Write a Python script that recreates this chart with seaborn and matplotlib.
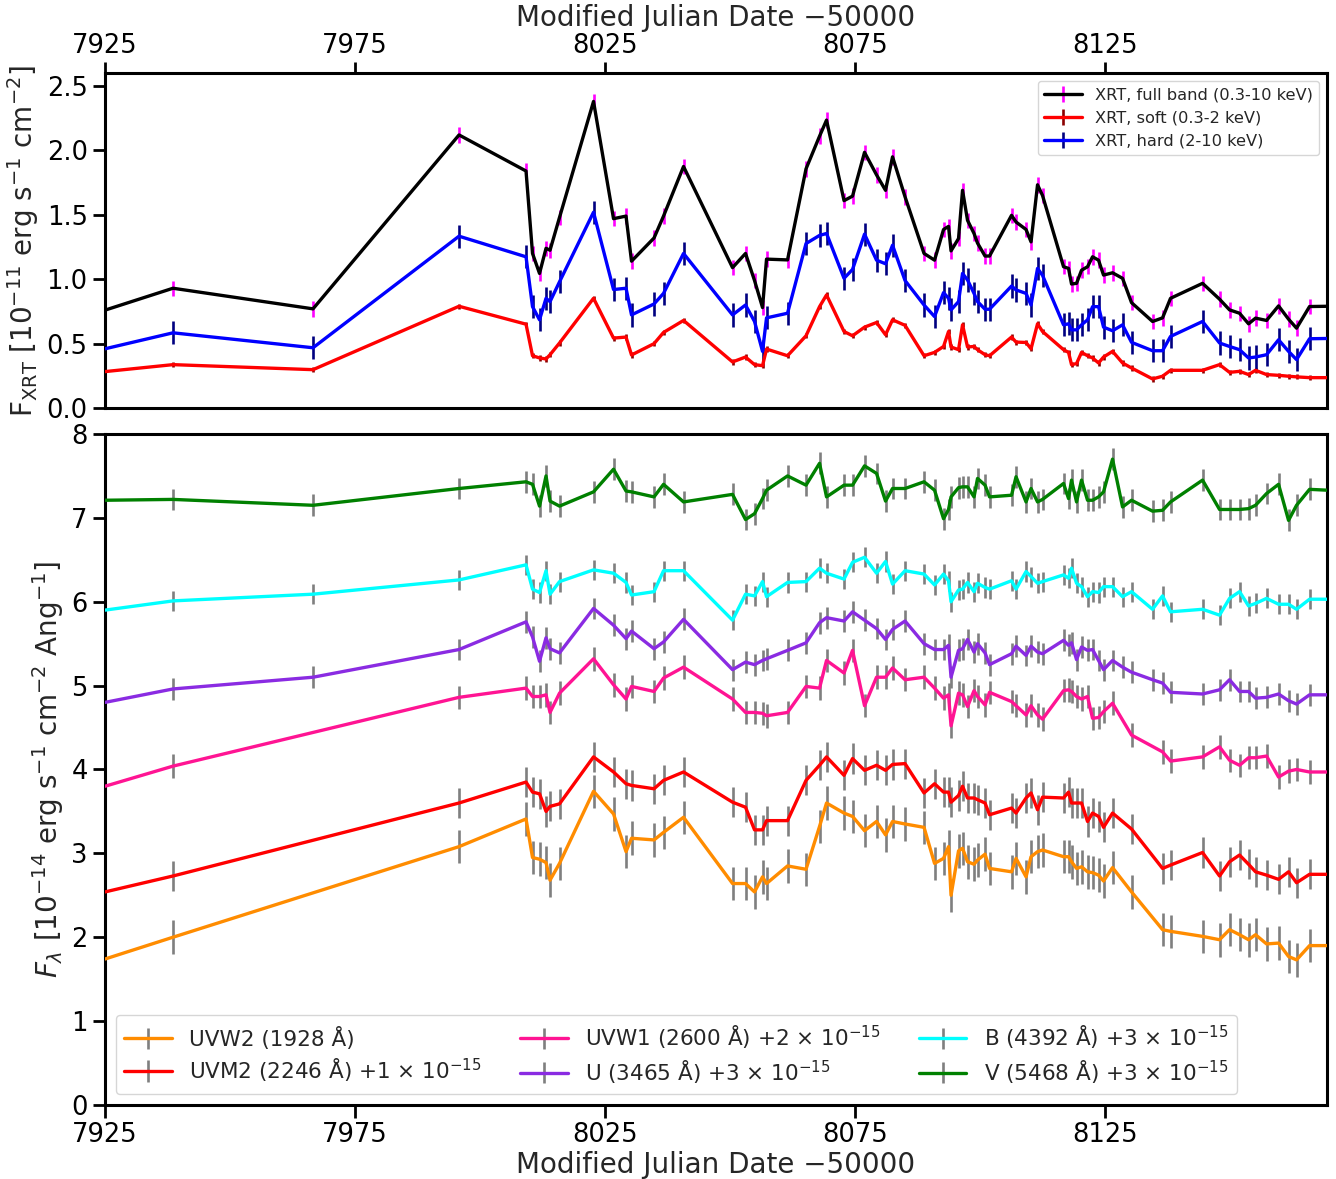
import numpy as np
import matplotlib
matplotlib.use('Agg')
import matplotlib.pyplot as plt
import seaborn as sns

# ---------------- data (MJD - 50000) ----------------
mjd = [7925.0, 7938.6, 7966.6, 7995.8, 8009.2, 8010.5, 8011.9, 8013.2, 8014.0, 8015.9,
       8022.7, 8026.7, 8029.2, 8030.3, 8034.8, 8036.7, 8040.7, 8050.5, 8053.1, 8054.9,
       8056.5, 8057.3, 8061.5, 8065.2, 8067.9, 8069.3, 8072.8, 8074.5, 8076.9, 8079.3,
       8081.1, 8082.5, 8085.0, 8088.8, 8090.9, 8092.7, 8093.7, 8094.2, 8095.7, 8096.5,
       8097.5, 8098.8, 8099.5, 8101.0, 8101.9, 8106.3, 8107.2, 8109.2, 8110.2, 8111.5,
       8112.5, 8116.7, 8117.7, 8118.3, 8119.3, 8120.3, 8121.5, 8122.5, 8123.7, 8124.7,
       8126.5, 8128.5, 8130.3, 8134.5, 8136.5, 8138.1, 8144.5, 8147.9, 8149.9, 8151.9,
       8153.7, 8155.1, 8157.3, 8159.7, 8161.7, 8163.3, 8165.9, 8169.4]

# XRT fluxes [1e-11 erg/s/cm2]
xrt_full = [0.76, 0.93, 0.77, 2.12, 1.84, 1.20, 1.045, 1.24, 1.225, 1.48,
            2.38, 1.47, 1.49, 1.14, 1.32, 1.49, 1.875, 1.09, 1.20, 0.99,
            0.78, 1.156, 1.15, 1.857, 2.11, 2.235, 1.61, 1.645, 1.985, 1.81,
            1.69, 1.95, 1.64, 1.20, 1.148, 1.386, 1.41, 1.22, 1.316, 1.69,
            1.457, 1.355, 1.28, 1.18, 1.18, 1.496, 1.444, 1.386, 1.29, 1.733,
            1.65, 1.097, 1.084, 0.963, 0.968, 1.07, 1.097, 1.174, 1.148, 1.032,
            1.05, 1.007, 0.818, 0.672, 0.70, 0.852, 0.968, 0.845, 0.762, 0.736,
            0.654, 0.698, 0.68, 0.793, 0.69, 0.62, 0.788, 0.79]
xrt_soft = [0.283, 0.337, 0.298, 0.79, 0.651, 0.406, 0.389, 0.381, 0.414, 0.505,
            0.852, 0.543, 0.551, 0.412, 0.50, 0.587, 0.68, 0.358, 0.396, 0.337,
            0.329, 0.458, 0.406, 0.561, 0.787, 0.878, 0.594, 0.561, 0.628, 0.664,
            0.569, 0.685, 0.642, 0.406, 0.432, 0.478, 0.594, 0.474, 0.453, 0.646,
            0.474, 0.478, 0.453, 0.414, 0.406, 0.551, 0.512, 0.509, 0.46, 0.654,
            0.594, 0.453, 0.432, 0.337, 0.345, 0.432, 0.406, 0.389, 0.35, 0.396,
            0.44, 0.35, 0.311, 0.226, 0.247, 0.293, 0.293, 0.337, 0.277, 0.285,
            0.26, 0.293, 0.26, 0.254, 0.247, 0.242, 0.236, 0.236]
xrt_hard = [0.46, 0.584, 0.468, 1.334, 1.174, 0.787, 0.685, 0.852, 0.826, 0.98,
            1.52, 0.92, 0.93, 0.723, 0.808, 0.89, 1.20, 0.723, 0.80, 0.672,
            0.44, 0.70, 0.736, 1.277, 1.34, 1.355, 1.007, 1.076, 1.35, 1.148,
            1.12, 1.264, 0.99, 0.80, 0.71, 0.896, 0.852, 0.762, 0.826, 1.045,
            0.994, 0.89, 0.826, 0.767, 0.767, 0.947, 0.917, 0.89, 0.80, 1.084,
            1.03, 0.646, 0.654, 0.607, 0.607, 0.646, 0.685, 0.787, 0.787, 0.628,
            0.60, 0.646, 0.51, 0.445, 0.445, 0.556, 0.672, 0.505, 0.478, 0.453,
            0.389, 0.396, 0.414, 0.53, 0.44, 0.376, 0.538, 0.54]
xrt_full_err = 0.06
xrt_soft_err = 0.02
xrt_hard_err = 0.09

nan = np.nan
# UVOT fluxes as plotted [1e-14 erg/s/cm2/A], including the offsets in the legend
uvw2 = [1.74, 2.00, nan, 3.08, 3.41, 2.95, 2.93, 2.89, 2.68, 2.88,
        3.74, 3.47, 3.02, 3.18, 3.16, 3.25, 3.43, 2.64, 2.64, 2.54,
        2.72, 2.64, 2.85, 2.81, 3.32, 3.60, 3.48, 3.44, 3.27, 3.38,
        3.22, 3.38, 3.35, 3.31, 2.88, 2.94, 3.08, 2.50, 3.03, 3.06,
        2.90, 2.87, 2.92, 2.99, 2.82, 2.78, 2.94, 2.72, 2.96, 3.02,
        3.04, 2.96, 2.96, 2.90, 2.82, 2.84, 2.78, 2.77, 2.74, 2.67,
        2.83, nan, 2.54, nan, 2.09, 2.07, 2.01, 1.97, 2.09, 2.03,
        1.97, 2.03, 1.92, 1.93, 1.77, 1.73, 1.90, 1.90]
uvm2 = [2.54, 2.73, nan, 3.60, 3.85, 3.73, 3.71, 3.50, 3.56, 3.59,
        4.15, 3.97, 3.83, 3.81, 3.77, 3.87, 3.97, 3.61, 3.55, 3.28,
        3.28, 3.39, 3.39, 3.87, 4.05, 4.15, 3.93, 4.13, 3.99, 4.05,
        3.99, 4.06, 4.07, 3.72, 3.83, 3.73, 3.73, 3.61, 3.69, 3.80,
        3.66, 3.66, 3.64, 3.60, 3.46, 3.54, 3.48, 3.66, 3.72, 3.52,
        3.67, 3.66, 3.73, 3.60, 3.60, 3.60, 3.38, 3.48, 3.44, 3.31,
        3.48, nan, 3.29, nan, 2.82, 2.86, 3.01, 2.73, 2.90, 2.98,
        2.87, 2.78, 2.74, 2.69, 2.78, 2.65, 2.75, 2.75]
uvw1 = [3.80, 4.04, nan, 4.86, 4.97, 4.87, 4.87, 4.89, 4.68, 4.91,
        5.32, 5.01, 4.84, 4.99, 4.93, 5.09, 5.22, 4.84, 4.68, 4.68,
        4.67, 4.64, 4.68, 4.99, 4.97, 5.30, 5.15, 5.42, 4.76, 5.10,
        5.10, 5.21, 5.07, 5.10, 4.97, 4.85, 4.89, 4.52, 4.91, 4.89,
        4.75, 4.94, 4.87, 4.77, 4.92, 4.81, 4.76, 4.65, 4.76, 4.65,
        4.60, 4.94, 4.95, 4.93, 4.87, 4.84, 4.87, 4.61, 4.62, 4.69,
        4.79, nan, 4.41, nan, 4.21, 4.10, 4.15, 4.27, 4.11, 4.05,
        4.14, 4.14, 4.16, 3.91, 3.98, 4.00, 3.97, 3.97]
u_band = [4.80, 4.96, 5.10, 5.43, 5.76, 5.58, 5.29, 5.57, 5.44, 5.39,
          5.92, 5.72, 5.56, 5.65, 5.44, 5.52, 5.79, 5.19, 5.28, 5.25,
          5.30, 5.32, 5.42, 5.51, 5.75, 5.81, 5.77, 5.88, 5.78, 5.68,
          5.55, 5.67, 5.77, 5.50, 5.43, 5.43, 5.48, 5.10, 5.42, 5.44,
          5.55, 5.40, 5.50, 5.39, 5.25, 5.38, 5.47, 5.36, 5.47, 5.40,
          5.38, 5.54, 5.48, 5.51, 5.31, 5.46, 5.42, 5.43, 5.30, 5.19,
          5.30, 5.22, 5.16, 5.07, 5.03, 4.92, 4.90, 4.95, 5.07, 4.93,
          4.93, 4.85, 4.86, 4.90, 4.82, 4.78, 4.89, 4.89]
b_band = [5.90, 6.01, 6.09, 6.26, 6.44, 6.15, 6.11, 6.37, 6.09, 6.24,
          6.38, 6.34, 6.23, 6.08, 6.12, 6.37, 6.37, 5.78, 6.09, 6.07,
          6.24, 6.06, 6.23, 6.24, 6.40, 6.34, 6.27, 6.47, 6.53, 6.34,
          6.48, 6.21, 6.37, 6.33, 6.20, 6.33, 6.25, 6.00, 6.14, 6.15,
          6.23, 6.12, 6.22, 6.17, 6.15, 6.25, 6.15, 6.36, 6.30, 6.22,
          6.24, 6.32, 6.28, 6.40, 6.22, 6.18, 6.06, 6.12, 6.11, 6.18,
          6.18, 6.06, 6.12, 5.91, 6.07, 5.88, 5.91, 5.84, 6.04, 6.12,
          5.95, 5.98, 6.04, 5.97, 5.97, 5.91, 6.03, 6.03]
v_band = [7.21, 7.22, 7.15, 7.35, 7.43, 7.40, 7.14, 7.50, 7.20, 7.14,
          7.31, 7.58, 7.32, 7.31, 7.25, 7.40, 7.19, 7.28, 6.98, 7.05,
          7.23, 7.33, 7.50, 7.39, 7.65, 7.25, 7.39, 7.39, 7.62, 7.53,
          7.20, 7.35, 7.35, 7.43, 7.33, 6.99, 7.10, 7.25, 7.36, 7.37,
          7.37, 7.25, 7.47, 7.39, 7.25, 7.27, 7.49, 7.19, 7.35, 7.19,
          7.22, 7.41, 7.23, 7.45, 7.19, 7.45, 7.21, 7.21, 7.25, 7.31,
          7.70, 7.13, 7.21, 7.08, 7.09, 7.19, 7.45, 7.10, 7.10, 7.10,
          7.11, 7.15, 7.29, 7.40, 6.97, 7.15, 7.34, 7.33]
uv_err = {'UVW2': 0.20, 'UVM2': 0.18, 'UVW1': 0.14, 'U': 0.13, 'B': 0.12, 'V': 0.13}

xticks = [7925, 7975, 8025, 8075, 8125]

# ---------------- style ----------------
sns.set_theme(style='ticks')
plt.rcParams['font.family'] = ['DejaVu Sans']
plt.rcParams['mathtext.fontset'] = 'dejavusans'
plt.rcParams['axes.linewidth'] = 2.2

fig = plt.figure(figsize=(13.36, 11.79), dpi=100)
ax1 = fig.add_axes([0.0786, 0.6539, 0.9147, 0.2841])
ax2 = fig.add_axes([0.0786, 0.0628, 0.9147, 0.5691])

LW = 2.4
ELW = 1.9
TICK_FS = 18.5
LABEL_FS = 20


def draw(ax, x, y, err, color, ecolor, label):
    x = np.asarray(x, float)
    y = np.asarray(y, float)
    m = ~np.isnan(y)
    ax.errorbar(x[m], y[m], yerr=err, fmt='none', ecolor=ecolor,
                elinewidth=ELW, capsize=0, zorder=2)
    sns.lineplot(x=x[m], y=y[m], color=color, lw=LW, ax=ax, legend=False,
                 estimator=None, sort=False, zorder=3)
    ax.errorbar([np.nan], [np.nan], yerr=[0.1], fmt='-', color=color,
                ecolor=ecolor, lw=LW, elinewidth=ELW, capsize=0, label=label)


# top panel: XRT
draw(ax1, mjd, xrt_full, xrt_full_err, 'black', 'magenta', 'XRT, full band (0.3-10 keV)')
draw(ax1, mjd, xrt_soft, xrt_soft_err, 'red', 'darkred', 'XRT, soft (0.3-2 keV)')
draw(ax1, mjd, xrt_hard, xrt_hard_err, 'blue', 'navy', 'XRT, hard (2-10 keV)')

ax1.set_xlim(7925, 8169.4)
ax1.set_ylim(0, 2.6)
ax1.set_xticks(xticks)
ax1.xaxis.tick_top()
ax1.xaxis.set_label_position('top')
ax1.set_xlabel('Modified Julian Date \u221250000', fontsize=LABEL_FS, labelpad=5)
ax1.set_ylabel(r'F$_{\rm XRT}$ [10$^{-11}$ erg s$^{-1}$ cm$^{-2}$]', fontsize=LABEL_FS)
ax1.legend(loc='upper right', fontsize=11.7, handlelength=2.3, framealpha=0.8)

# bottom panel: UVOT
grey = '#7f7f7f'
draw(ax2, mjd, uvw2, uv_err['UVW2'], 'darkorange', grey, 'UVW2 (1928 Å)')
draw(ax2, mjd, uvm2, uv_err['UVM2'], 'red', grey, r'UVM2 (2246 Å) +1 $\times$ 10$^{-15}$')
draw(ax2, mjd, uvw1, uv_err['UVW1'], 'deeppink', grey, r'UVW1 (2600 Å) +2 $\times$ 10$^{-15}$')
draw(ax2, mjd, u_band, uv_err['U'], 'blueviolet', grey, r'U (3465 Å) +3 $\times$ 10$^{-15}$')
draw(ax2, mjd, b_band, uv_err['B'], 'cyan', grey, r'B (4392 Å) +3 $\times$ 10$^{-15}$')
draw(ax2, mjd, v_band, uv_err['V'], 'green', grey, r'V (5468 Å) +3 $\times$ 10$^{-15}$')

ax2.set_xlim(7925, 8169.4)
ax2.set_ylim(0, 8)
ax2.set_xticks(xticks)
ax2.set_yticks(range(0, 9))
ax2.set_xlabel('Modified Julian Date \u221250000', fontsize=LABEL_FS, labelpad=2)
ax2.set_ylabel(r'$F_\lambda$ [10$^{-14}$ erg s$^{-1}$ cm$^{-2}$ Ang$^{-1}$]', fontsize=LABEL_FS)
ax2.legend(loc='lower left', ncol=3, fontsize=15.5, handlelength=2.2,
           labelspacing=0.3, columnspacing=1.8, framealpha=0.8)

for ax in (ax1, ax2):
    ax.tick_params(axis='both', which='major', length=9, width=2, labelsize=TICK_FS,
                   color='black', labelcolor='black')
    for s in ax.spines.values():
        s.set_visible(True)
        s.set_color('black')
        s.set_linewidth(2.2)
ax1.tick_params(axis='x', top=True, bottom=False, labeltop=True, labelbottom=False,
                pad=2, length=8)

fig.savefig('out.png', dpi=100)
